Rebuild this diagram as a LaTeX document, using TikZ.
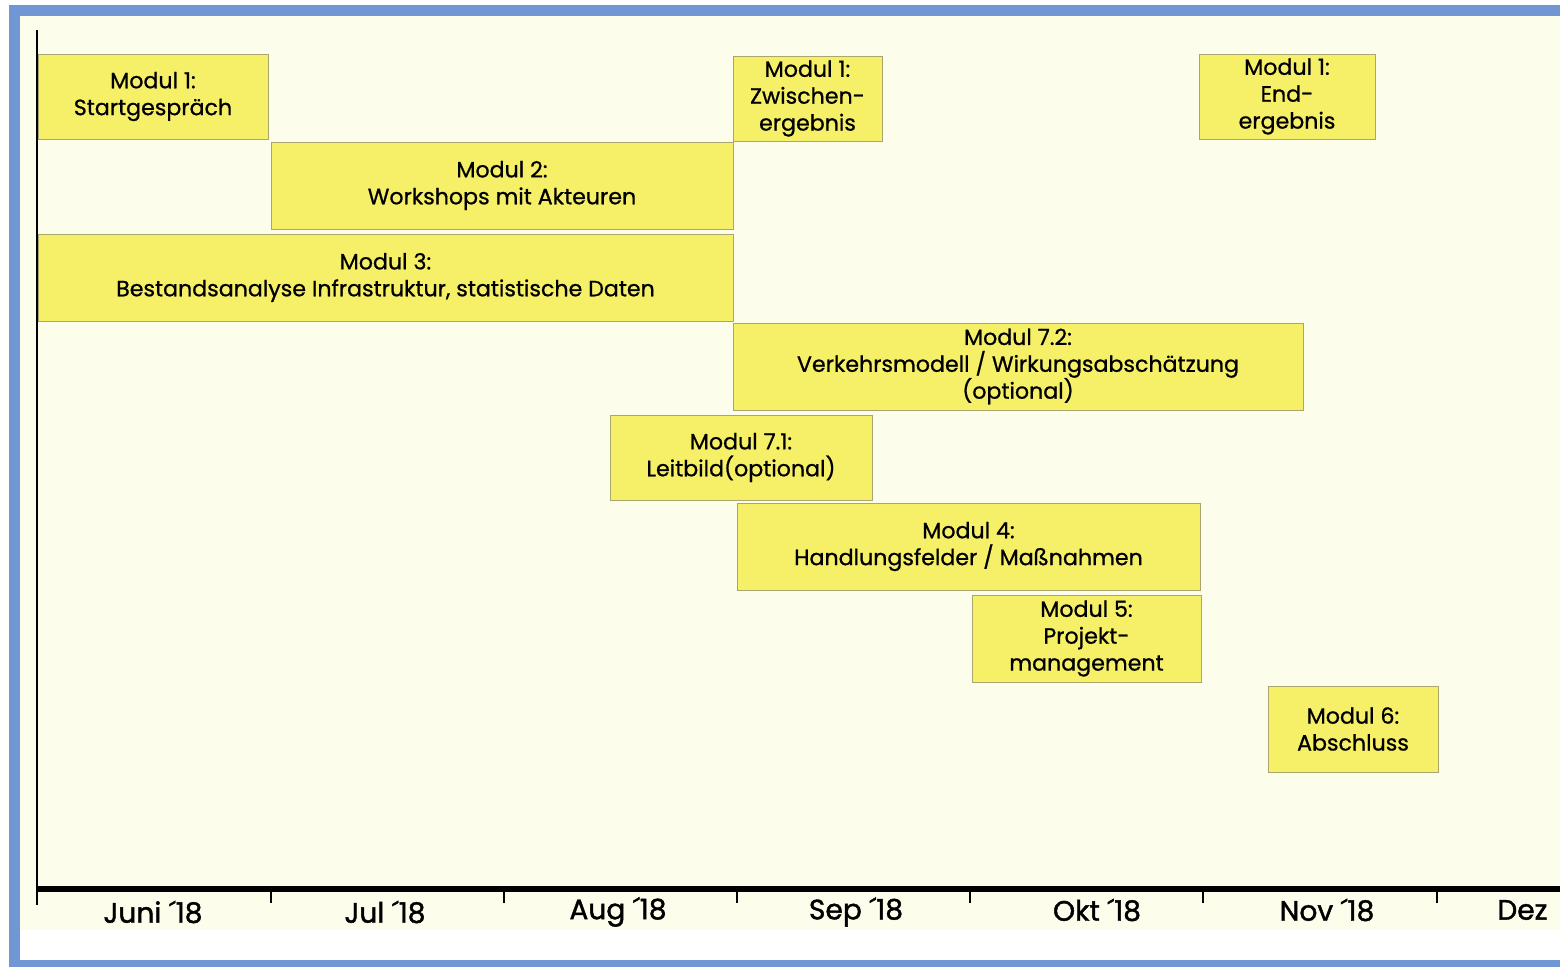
\documentclass[tikz,border=0pt]{standalone}
\usepackage{fontspec}
\setmainfont{Poppins}
\usepackage{xcolor}
\definecolor{frameblue}{RGB}{112,150,212}
\definecolor{cream}{RGB}{253,253,236}
\definecolor{boxyellow}{RGB}{246,240,104}
\definecolor{boxedge}{RGB}{170,166,110}
\tikzset{
	modbox/.style 2 args = {draw = boxedge, fill = boxyellow, line width = 0.5pt, align = center,
		minimum width = #1*0.02cm, minimum height = #2*0.02cm, inner sep = 0pt,
		font = \fontsize{12.6}{15.3}\selectfont\addfontfeature{FakeBold=0.8}},
	monthlabel/.style = {font = \fontsize{16}{18}\selectfont\addfontfeature{FakeBold=1.4}, inner sep = 0pt}
}

\begin{document}
\begin{tikzpicture}[x = 0.02cm, y = -0.02cm]
		\useasboundingbox (0,0) rectangle (1560,967);
		\fill[white] (0,0) rectangle (1560,967);
		\fill[frameblue] (9,5) rectangle (1560,967);
		\fill[white] (20,16) rectangle (1560,960);
		\fill[cream] (20,16) rectangle (1560,930);
		\node[modbox = {230}{85}] (startgespraech) at (153,96.5) {Modul 1:\\Startgespräch};
		\node[modbox = {149}{85}] (zwischenergebnis) at (807.5,98.5) {Modul 1:\\Zwischen-\\ergebnis};
		\node[modbox = {176}{85}] (endergebnis) at (1287,96.5) {Modul 1:\\End-\\ergebnis};
		\node[modbox = {462}{87}] (workshops) at (502,185.5) {Modul 2:\\Workshops mit Akteuren};
		\node[modbox = {695}{87}] (bestandsanalyse) at (385.5,277.5) {Modul 3:\\Bestandsanalyse Infrastruktur, statistische Daten};
		\node[modbox = {570}{87}] (verkehrsmodell) at (1018,366.5) {Modul 7.2:\\Verkehrsmodell / Wirkungsabschätzung\\(optional)};
		\node[modbox = {262}{85}] (leitbild) at (741,457.5) {Modul 7.1:\\Leitbild(optional)};
		\node[modbox = {463}{87}] (handlungsfelder) at (968.5,546.5) {Modul 4:\\Handlungsfelder / Maßnahmen};
		\node[modbox = {229}{87}] (projektmanagement) at (1086.5,638.5) {Modul 5:\\Projekt-\\management};
		\node[modbox = {170}{86}] (abschluss) at (1353,729) {Modul 6:\\Abschluss};
		\coordinate (origin) at (37,889);
		\coordinate (ytop) at (37,30);
		\draw[line width = 1.2pt] (ytop) -- (37,905);
		\draw[line width = 3.4pt] (origin) -- (1560,889);
		\foreach \tx in {271,504,737,970,1203,1437}
			\draw[line width = 1.2pt] (\tx,889) -- (\tx,903);
		\node[monthlabel] (juni) at (153,912) {Juni ´18};
		\node[monthlabel] (juli) at (385,912) {Jul ´18};
		\node[monthlabel] (aug) at (618,912) {Aug ´18};
		\node[monthlabel] (sep) at (856,912) {Sep ´18};
		\node[monthlabel] (okt) at (1097,910) {Okt ´18};
		\node[monthlabel] (nov) at (1327,910) {Nov ´18};
		\node[monthlabel, anchor = west] (dez) at (1497,910) {Dez};
	\end{tikzpicture}
\end{document}
